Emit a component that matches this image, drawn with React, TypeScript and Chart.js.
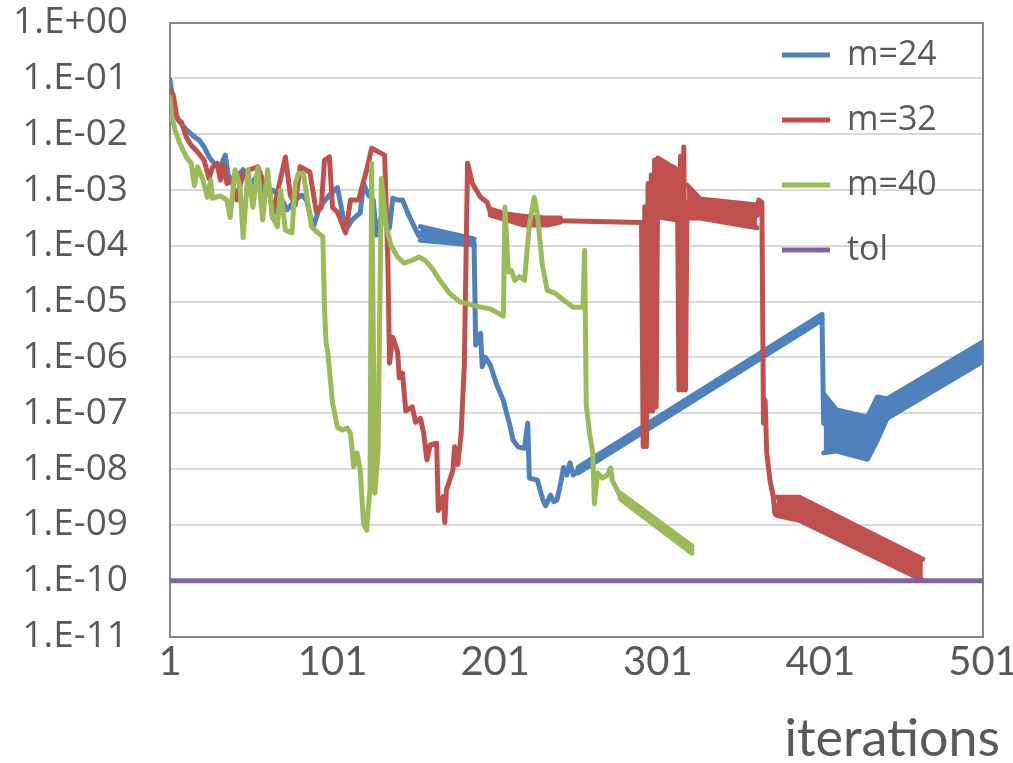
import { useEffect, useRef } from 'react';
import { Chart, registerables } from 'chart.js';

Chart.register(...registerables);

// ---------- axis ticks ----------
const xTicks = [1, 101, 201, 301, 401, 501];
const xTickLabels = ['1', '101', '201', '301', '401', '501'];
const yTickValues = [1e-11, 1e-10, 1e-9, 1e-8, 1e-7, 1e-6, 1e-5, 1e-4, 1e-3, 1e-2, 1e-1, 1];
const yTickLabels = ['1.E-11', '1.E-10', '1.E-09', '1.E-08', '1.E-07', '1.E-06', '1.E-05', '1.E-04', '1.E-03', '1.E-02', '1.E-01', '1.E+00'];

const seriesNames = ['m=24', 'm=32', 'm=40', 'tol'];
const seriesColors = ['#4F81BD', '#C0504D', '#9BBB59', '#8064A2'];

// ---------- m=24 ----------
const m24Iter = [1, 4, 7, 11, 16, 19, 22, 25, 29, 32, 35, 37, 41, 46, 50, 55, 59, 64, 69, 73, 78, 82, 85, 89, 93, 99, 104, 109, 113, 118, 120, 123, 126, 128, 131, 136, 138, 141, 144, 147, 150, 154, 155, 188, 189, 192, 193, 195, 198, 202, 206, 208, 210, 212, 215, 219, 221, 222, 227, 230, 232, 235, 237, 239, 241, 243, 245, 247, 249, 252, 402, 403, 411, 430, 436, 442, 501];
const m24Val = [9.3e-2, 2.4e-2, 1.65e-2, 1.2e-2, 8.9e-3, 7.8e-3, 5.9e-3, 3.9e-3, 2.8e-3, 2.6e-3, 4.2e-3, 1.7e-3, 1.6e-3, 2.3e-3, 1.2e-3, 1.85e-3, 8.1e-4, 1.0e-3, 7.4e-4, 4.4e-4, 6.6e-4, 8.1e-4, 6.6e-4, 2.1e-4, 4.9e-4, 8.1e-4, 1.1e-3, 1.9e-4, 2.9e-4, 3.9e-4, 1.3e-3, 8.1e-4, 6.6e-4, 1.55e-4, 3.5e-4, 2.1e-4, 7.1e-4, 6.6e-4, 6.6e-4, 4.0e-4, 2.6e-4, 1.5e-4, 1.7e-4, 1.16e-4, 1.66e-6, 2.7e-6, 6.8e-7, 1.0e-6, 7.3e-7, 3.2e-7, 1.7e-7, 1.0e-7, 6.1e-8, 3.3e-8, 2.5e-8, 2.35e-8, 6.6e-8, 6.9e-9, 6.3e-9, 3.0e-9, 2.2e-9, 3.4e-9, 2.6e-9, 2.8e-9, 5.1e-9, 1.07e-8, 7.8e-9, 1.3e-8, 7.8e-9, 9.5e-9, 5.3e-6, 6.6e-8, 5.0e-8, 3.6e-8, 8.0e-8, 1.2e-7, 1.27e-6];
// oscillating bands of m=24 (upper / lower envelopes)
const m24BandAIter = [155, 188];
const m24BandAHi = [2.2e-4, 1.32e-4];
const m24BandALo = [1.26e-4, 1.03e-4];
const m24BandBIter = [252, 402];
const m24BandBHi = [1.07e-8, 5.9e-6];
const m24BandBLo = [8.5e-9, 4.7e-6];
const m24BandCIter = [403, 411, 430, 436, 442, 501];
const m24BandCHi = [2.2e-7, 1.14e-7, 8.5e-8, 1.95e-7, 1.8e-7, 1.9e-6];
const m24BandCLo = [1.95e-8, 2.1e-8, 1.5e-8, 3.3e-8, 8.1e-8, 8.5e-7];

// ---------- m=32 ----------
const m32Iter = [1, 3, 5, 6, 8, 11, 14, 18, 22, 25, 27, 30, 32, 34, 36, 39, 42, 46, 50, 55, 58, 61, 63, 64, 68, 72, 75, 78, 81, 87, 91, 94, 96, 99, 101, 104, 109, 112, 117, 119, 122, 125, 133, 135, 136, 138, 141, 142, 144, 146, 150, 152, 155, 157, 159, 161, 165, 166, 169, 170, 171, 175, 176, 178, 180, 182, 184, 187, 192, 196, 198, 241, 291, 292, 293, 294, 295, 296, 297, 298, 299, 300, 301, 305, 309, 313, 314, 315, 316, 317, 318, 319, 327, 362, 363, 365, 366, 367, 368, 370, 372, 373, 374, 388, 464];
const m32Val = [6.2e-2, 5.0e-2, 2.2e-2, 1.8e-2, 1.65e-2, 8.9e-3, 6.3e-3, 4.8e-3, 3.4e-3, 1.6e-3, 2.5e-3, 3.0e-3, 1.5e-3, 2.8e-3, 1.3e-3, 1.5e-3, 6.6e-4, 2.0e-3, 2.3e-3, 2.6e-3, 1.5e-3, 1.2e-3, 6.6e-4, 3.2e-4, 1.2e-3, 3.9e-3, 8.1e-4, 5.4e-4, 2.6e-3, 2.1e-3, 4.0e-4, 4.8e-4, 3.4e-3, 3.9e-3, 4.8e-4, 4.0e-4, 1.7e-4, 6.6e-4, 6.6e-4, 1.1e-3, 2.3e-3, 5.6e-3, 4.2e-3, 4.9e-5, 7.9e-7, 2.3e-6, 1.26e-6, 4.3e-7, 5.2e-7, 1.1e-7, 1.3e-7, 6.9e-8, 8.1e-8, 4.4e-8, 1.45e-8, 2.7e-8, 2.9e-8, 1.8e-9, 3.2e-9, 1.1e-9, 4.2e-9, 9.5e-9, 2.5e-8, 1.2e-8, 4.1e-8, 7.3e-7, 3.0e-3, 1.3e-3, 7.4e-4, 6.0e-4, 4.0e-4, 2.8e-4, 2.6e-4, 2.5e-8, 5.0e-4, 2.5e-8, 1.3e-3, 1.1e-7, 1.85e-3, 1.1e-7, 3.4e-3, 1.3e-7, 3.7e-3, 2.9e-3, 2.6e-3, 2.3e-3, 2.6e-7, 4.0e-3, 2.6e-7, 5.9e-3, 2.6e-7, 6.0e-4, 4.5e-4, 3.5e-4, 6.6e-4, 6.0e-4, 6.6e-8, 1.7e-7, 1.95e-8, 6.3e-9, 3.2e-9, 1.6e-9, 2.2e-9, 1.9e-9, 1.0e-10];
const m32BandAIter = [198, 208, 218, 233, 241];
const m32BandAHi = [4.55e-4, 3.7e-4, 3.27e-4, 3.16e-4, 3.16e-4];
const m32BandALo = [3.55e-4, 2.9e-4, 2.36e-4, 2.36e-4, 2.66e-4];
const m32BandBIter = [301, 313];
const m32BandBHi = [3.7e-3, 2.3e-3];
const m32BandBLo = [3.3e-4, 2.9e-4];
const m32BandCIter = [319, 327, 362];
const m32BandCHi = [1.22e-3, 6.9e-4, 5.4e-4];
const m32BandCLo = [3.15e-4, 3.15e-4, 2.1e-4];
const m32BandDIter = [374, 388, 464];
const m32BandDHi = [3.13e-9, 3.13e-9, 2.43e-10];
const m32BandDLo = [1.49e-9, 1.21e-9, 1.02e-10];

// ---------- m=40 ----------
const m40Iter = [1, 2, 4, 7, 11, 14, 16, 18, 21, 24, 26, 27, 32, 36, 38, 41, 44, 46, 49, 52, 55, 58, 61, 64, 67, 69, 72, 76, 78, 80, 83, 88, 92, 95, 96, 97, 98, 101, 102, 104, 107, 110, 112, 114, 116, 118, 120, 122, 123, 124, 125, 127, 129, 131, 134, 137, 141, 145, 150, 154, 158, 162, 167, 173, 179, 189, 198, 206, 207, 209, 211, 213, 216, 219, 222, 225, 227, 230, 233, 238, 243, 249, 255, 256, 257, 259, 261, 262, 264, 267, 270, 272, 273, 278, 322];
const m40Val = [4.6e-2, 2.2e-2, 1.2e-2, 6.9e-3, 3.9e-3, 3.0e-3, 1.2e-3, 2.6e-3, 1.6e-3, 7.4e-4, 1.5e-3, 7.1e-4, 7.8e-4, 6.6e-4, 3.2e-4, 2.3e-3, 1.2e-3, 1.4e-4, 2.3e-3, 4.9e-4, 2.5e-3, 2.9e-4, 2.3e-3, 3.3e-4, 2.2e-4, 1.0e-3, 1.9e-4, 1.7e-4, 1.3e-3, 2.0e-3, 2.0e-3, 2.2e-4, 1.7e-4, 1.45e-4, 7.9e-6, 1.8e-6, 1.26e-6, 1.5e-7, 1.1e-7, 5.6e-8, 5.0e-8, 5.4e-8, 4.4e-8, 1.1e-8, 1.95e-8, 9.5e-9, 1.07e-9, 8.0e-10, 2.1e-9, 4.2e-9, 3.0e-3, 3.7e-9, 2.2e-8, 1.6e-3, 2.2e-4, 1.0e-4, 6.3e-5, 4.9e-5, 5.5e-5, 6.3e-5, 5.5e-5, 4.0e-5, 2.4e-5, 1.4e-5, 1.0e-5, 8.3e-6, 7.4e-6, 5.5e-6, 4.9e-4, 3.4e-5, 3.6e-5, 2.4e-5, 2.8e-5, 2.4e-5, 2.3e-4, 7.4e-4, 3.5e-4, 4.5e-5, 1.6e-5, 1.4e-5, 1.07e-5, 7.9e-6, 7.9e-6, 8.3e-5, 1.4e-7, 4.4e-8, 1.95e-8, 2.4e-9, 8.5e-9, 6.9e-9, 7.8e-9, 1.05e-8, 6.3e-9, 3.2e-9, 3.6e-10];
const m40BandAIter = [278, 322];
const m40BandAHi = [3.7e-9, 4.2e-10];
const m40BandALo = [2.9e-9, 3.1e-10];

// ---------- tol ----------
const tolIter = [1, 501];
const tolVal = [1e-10, 1e-10];

// ---------- styling constants ----------
const LINE_W = 5;
const GRID_COLOR = '#d9d9d9';
const FRAME_COLOR = '#868686';
const TEXT_COLOR = '#595959';
const Y_FONT = "'Open Sans', 'DejaVu Sans', sans-serif";
const X_FONT = "Lato, 'Open Sans', sans-serif";

const pts = (xs: number[], ys: number[]) => xs.map((x, i) => ({ x, y: ys[i] }));

export default function App() {
  const ref = useRef<HTMLCanvasElement | null>(null);

  useEffect(() => {
    const canvas = ref.current;
    if (!canvas) return;

    const line = (label: string, color: string, data: any[], order: number, extra: any = {}) => ({
      label,
      data,
      borderColor: color,
      backgroundColor: color,
      borderWidth: LINE_W,
      pointRadius: 0,
      pointHoverRadius: 0,
      tension: 0,
      fill: false,
      borderJoinStyle: 'round',
      borderCapStyle: 'round',
      order,
      ...extra,
    });

    const datasets: any[] = [
      line(seriesNames[0], seriesColors[0], pts(m24Iter, m24Val), 3),
      line(seriesNames[1], seriesColors[1], pts(m32Iter, m32Val), 2),
      line(seriesNames[2], seriesColors[2], pts(m40Iter, m40Val), 1),
      line(seriesNames[3], seriesColors[3], pts(tolIter, tolVal), 0),
    ];
    const addBand = (color: string, order: number, xs: number[], hi: number[], lo: number[]) => {
      datasets.push(line('', color, pts(xs, hi), order, { fill: '+1' }));
      datasets.push(line('', color, pts(xs, lo), order));
    };
    addBand(seriesColors[0], 3, m24BandAIter, m24BandAHi, m24BandALo);
    addBand(seriesColors[0], 3, m24BandBIter, m24BandBHi, m24BandBLo);
    addBand(seriesColors[0], 3, m24BandCIter, m24BandCHi, m24BandCLo);
    addBand(seriesColors[1], 2, m32BandAIter, m32BandAHi, m32BandALo);
    addBand(seriesColors[1], 2, m32BandBIter, m32BandBHi, m32BandBLo);
    addBand(seriesColors[1], 2, m32BandCIter, m32BandCHi, m32BandCLo);
    addBand(seriesColors[1], 2, m32BandDIter, m32BandDHi, m32BandDLo);
    addBand(seriesColors[2], 1, m40BandAIter, m40BandAHi, m40BandALo);

    const legendPlacer = {
      id: 'legendPlacer',
      beforeDraw(chart: any) {
        const lg = chart.legend;
        if (!lg) return;
        lg.left = 751;
        lg.top = 7;
        lg.right = chart.width;
        lg.bottom = chart.height;
      },
    };

    const noPadX = (s: any) => { s.paddingLeft = 0; s.paddingRight = 0; };
    const noPadY = (s: any) => { s.paddingTop = 0; s.paddingBottom = 0; };

    const chart = new Chart(canvas, {
      type: 'line',
      data: { datasets },
      plugins: [legendPlacer],
      options: {
        animation: false,
        responsive: false,
        devicePixelRatio: 1,
        events: [],
        layout: { padding: { left: 0, right: 13, top: 0, bottom: 0 } },
        scales: {
          x: {
            type: 'linear',
            position: 'bottom',
            min: 1,
            max: 501,
            afterBuildTicks: (s: any) => { s.ticks = xTicks.map((v) => ({ value: v })); },
            afterFit: (s: any) => { s.height = 64.1; noPadX(s); },
            grid: { display: false, drawTicks: false },
            border: { display: true, color: FRAME_COLOR, width: 2 },
            ticks: {
              autoSkip: false,
              maxRotation: 0,
              padding: 2,
              color: TEXT_COLOR,
              font: { family: X_FONT, size: 40 },
              callback: (_v: any, i: number) => xTickLabels[i],
            },
          },
          xTop: {
            type: 'linear',
            position: 'top',
            display: true,
            afterFit: (s: any) => { s.height = 22.5; noPadX(s); },
            grid: { display: false, drawTicks: false },
            border: { display: true, color: FRAME_COLOR, width: 2 },
            ticks: { display: false },
          },
          y: {
            type: 'logarithmic',
            position: 'left',
            min: 1e-11,
            max: 1,
            afterBuildTicks: (s: any) => { s.ticks = yTickValues.map((v) => ({ value: v })); },
            afterFit: (s: any) => { s.width = 170; noPadY(s); },
            grid: { color: GRID_COLOR, lineWidth: 2, drawTicks: true, tickLength: 38, tickColor: 'rgba(0,0,0,0)' },
            border: { display: true, color: FRAME_COLOR, width: 2 },
            ticks: {
              padding: 4,
              color: TEXT_COLOR,
              font: { family: Y_FONT, size: 37 },
              callback: (_v: any, i: number) => yTickLabels[i],
            },
          },
          yRight: {
            type: 'linear',
            position: 'right',
            display: true,
            afterFit: (s: any) => { s.width = 17; noPadY(s); },
            grid: { display: false, drawTicks: false },
            border: { display: true, color: FRAME_COLOR, width: 2 },
            ticks: { display: false },
          },
        },
        plugins: {
          tooltip: { enabled: false },
          title: {
            display: true,
            position: 'bottom',
            align: 'end',
            text: 'iterations',
            color: TEXT_COLOR,
            font: { family: X_FONT, size: 52, weight: 'normal', lineHeight: 1.2 },
            padding: { top: 7, bottom: -7 },
          },
          legend: {
            display: true,
            position: 'chartArea',
            align: 'start',
            labels: {
              filter: (item: any) => item.datasetIndex < 4,
              sort: (a: any, b: any) => a.datasetIndex - b.datasetIndex,
              usePointStyle: true,
              pointStyle: 'line',
              pointStyleWidth: 48,
              padding: 31,
              color: TEXT_COLOR,
              font: { family: Y_FONT, size: 34 },
            },
          },
        },
      } as any,
    });

    return () => chart.destroy();
  }, []);

  return (
    <canvas
      ref={ref}
      width={1013}
      height={763}
      style={{ position: 'absolute', left: 0, top: 0, display: 'block' }}
    />
  );
}
